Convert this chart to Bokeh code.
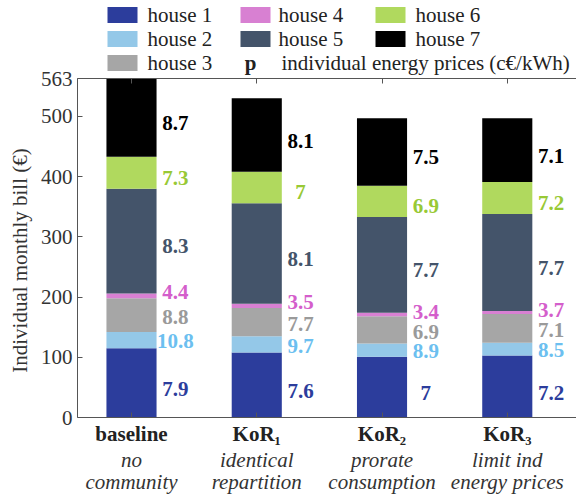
import math
from bokeh.plotting import figure
from bokeh.models import ColumnDataSource, FixedTicker, Label, BoxAnnotation, LinearAxis
from bokeh.embed import file_html
from bokeh.resources import INLINE
from bokeh.core.properties import value

# ---------------- data ----------------
scenarios = ["baseline", "KoR\u2081", "KoR\u2082", "KoR\u2083"]
subtitles = [["no", "community"], ["identical", "repartition"],
             ["prorate", "consumption"], ["limit ind", "energy prices"]]
houses = ["house 1", "house 2", "house 3", "house 4", "house 5", "house 6", "house 7"]

# individual monthly bill (EUR) per house, for each scenario
bill_h1 = [115, 108, 101, 103]
bill_h2 = [27, 27, 22, 21]
bill_h3 = [56, 47, 45, 48]
bill_h4 = [8, 7, 6, 5]
bill_h5 = [174, 167, 159, 161]
bill_h6 = [53, 52, 52, 53]
bill_h7 = [130, 122, 112, 106]

# individual energy prices (c EUR / kWh)
price_h1 = [7.9, 7.6, 7.0, 7.2]
price_h2 = [10.8, 9.7, 8.9, 8.5]
price_h3 = [8.8, 7.7, 6.9, 7.1]
price_h4 = [4.4, 3.5, 3.4, 3.7]
price_h5 = [8.3, 8.1, 7.7, 7.7]
price_h6 = [7.3, 7.0, 6.9, 7.2]
price_h7 = [8.7, 8.1, 7.5, 7.1]

y_ticks = [0, 100, 200, 300, 400, 500, 563]

bills = [bill_h1, bill_h2, bill_h3, bill_h4, bill_h5, bill_h6, bill_h7]
prices = [price_h1, price_h2, price_h3, price_h4, price_h5, price_h6, price_h7]

# ---------------- style ----------------
bar_colors = ["#2c3d9c", "#94c8e8", "#a6a6a6", "#d880d2", "#44546a", "#b0d95e", "#000000"]
text_colors = ["#2c3d9c", "#6cbff0", "#9a9a9a", "#d45ecb", "#44546a", "#98c935", "#000000"]
label_shift = [-10, -2, -3, None, -9, -8, -9]
FONT = "Liberation Serif"
FS = "21px"
AX = "#555555"
W, H = 576, 498
y_max = y_ticks[-1]

# canvas px -> data helpers (frame covers the whole canvas)
PX_X1, PX_PER_X = 131.0, 125.26
PX_Y0, PX_PER_Y = 417.0, 339.0 / y_max
def dx(px):
    return 1 + (px - PX_X1) / PX_PER_X
def dy(py):
    return (PX_Y0 - py) / PX_PER_Y

p = figure(width=W, height=H, output_backend="svg", toolbar_location=None,
           x_range=(dx(0), dx(W)), y_range=(dy(H), dy(0)), min_border=0)
p.outline_line_color = None
p.grid.visible = False

xs = [i + 1 for i in range(len(scenarios))]
src = {"x": xs}
for h, b in zip(houses, bills):
    src[h] = b
p.vbar_stack(houses, x="x", width=0.4, color=bar_colors, line_color=None,
             source=ColumnDataSource(src))

# price labels
lx, ly, lt, lc = [], [], [], []
for j in range(len(scenarios)):
    cum = 0
    for k in range(len(houses)):
        b = bills[k][j]
        lo, hi = cum, cum + b
        cum = hi
        yy = hi + 2 if label_shift[k] is None else (lo + hi) / 2 + label_shift[k]
        lx.append(xs[j] + 0.35)
        ly.append(yy)
        lt.append(f"{prices[k][j]:g}")
        lc.append(text_colors[k])
p.text(x="x", y="y", text="t", text_color="c", source=ColumnDataSource(dict(x=lx, y=ly, t=lt, c=lc)),
       text_font=value(FONT), text_font_size=FS, text_font_style="bold",
       text_align="center", text_baseline="middle")

# axes (drawn at fixed positions inside the canvas-wide frame)
x_axis_left = dx(77)
yax = p.yaxis[0]
xax = p.xaxis[0]
yax.fixed_location = x_axis_left
yax.bounds = (0, y_max)
yax.ticker = FixedTicker(ticks=y_ticks)
yax.major_label_standoff = 5
xax.fixed_location = 0
xax.bounds = (x_axis_left, dx(W))
xax.ticker = FixedTicker(ticks=xs)
xax.major_label_overrides = {x: s for x, s in zip(xs, scenarios)}
xax.major_label_text_font_style = "bold"
xax.major_label_text_color = "#222222"
xax.major_label_standoff = 4
for ax in [xax, yax]:
    ax.axis_line_color = AX
    ax.major_tick_line_color = AX
    ax.major_tick_in = 5
    ax.major_tick_out = 0
    ax.minor_tick_line_color = None
    ax.major_label_text_font = FONT
    ax.major_label_text_font_size = FS
yax.major_label_text_color = "#333333"
top = LinearAxis(ticker=FixedTicker(ticks=xs), fixed_location=y_max, bounds=(x_axis_left, dx(W)),
                 major_label_text_color=None, axis_line_color=AX, major_tick_line_color=AX,
                 major_tick_in=5, major_tick_out=0, minor_tick_line_color=None)
p.add_layout(top, "above")

# y axis title
p.add_layout(Label(x=dx(19), y=dy(260), text="Individual monthly bill (\u20ac)", angle=math.pi / 2,
                   text_align="center", text_baseline="middle", text_font=FONT,
                   text_font_size=FS, text_color="#333333"))

# category subtitles
for j in range(len(scenarios)):
    for r, line in enumerate(subtitles[j]):
        p.add_layout(Label(x=xs[j], y=dy(459 + 22 * r), text=line, text_align="center",
                           text_baseline="middle", text_font=FONT, text_font_size=FS,
                           text_font_style="italic", text_color="#333333"))

# legend
cols_sw = [107, 240, 375]
cols_tx = [147, 278, 415]
rows = [14.5, 38.5, 62.5]
slots = [(0, 0), (0, 1), (0, 2), (1, 0), (1, 1), (2, 0), (2, 1)]
for k, (c, r) in enumerate(slots):
    p.add_layout(BoxAnnotation(left=dx(cols_sw[c]), right=dx(cols_sw[c] + 30),
                               top=dy(rows[r] - 8), bottom=dy(rows[r] + 8),
                               fill_color=bar_colors[k], fill_alpha=1.0, line_color=None))
    p.add_layout(Label(x=dx(cols_tx[c]), y=dy(rows[r]), text=houses[k], text_align="left",
                       text_baseline="middle", text_font=FONT, text_font_size=FS, text_color="#222222"))
p.add_layout(Label(x=dx(250), y=dy(rows[2]), text="p", text_align="center", text_baseline="middle",
                   text_font=FONT, text_font_size=FS, text_font_style="bold", text_color="#222222"))
p.add_layout(Label(x=dx(281), y=dy(rows[2]), text="individual energy prices (c\u20ac/kWh)",
                   text_align="left", text_baseline="middle", text_font=FONT, text_font_size=FS,
                   text_color="#222222"))

open("out.html", "w").write(file_html(p, INLINE))
